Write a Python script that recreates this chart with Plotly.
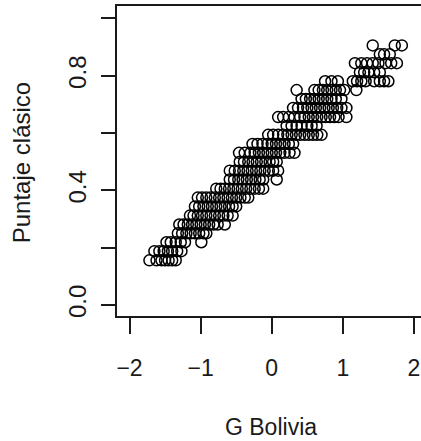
import plotly.graph_objects as go

# Puntaje clásico levels (rows of the scatter) and the G Bolivia values seen in each row
puntaje_levels = [0.156, 0.188, 0.219, 0.250, 0.281, 0.312, 0.344, 0.375, 0.406,
                  0.438, 0.469, 0.500, 0.531, 0.562, 0.594, 0.625, 0.656, 0.688,
                  0.719, 0.750, 0.781, 0.812, 0.844, 0.875, 0.906]

g_bolivia_rows = [
    [-1.72, -1.62, -1.55, -1.50, -1.45, -1.40, -1.35],
    [-1.65, -1.58, -1.52, -1.46, -1.40, -1.33, -1.27],
    [-1.48, -1.42, -1.35, -1.28, -1.22, -0.99],
    [-1.32, -1.26, -1.20, -1.14, -1.08, -1.02, -0.96, -0.92],
    [-1.30, -1.24, -1.18, -1.12, -1.06, -1.00, -0.94, -0.88, -0.82, -0.76, -0.66],
    [-1.15, -1.10, -1.04, -0.98, -0.92, -0.86, -0.80, -0.74, -0.68, -0.62, -0.55],
    [-1.08, -1.02, -0.96, -0.90, -0.84, -0.78, -0.72, -0.66, -0.60, -0.55, -0.50],
    [-1.04, -0.98, -0.92, -0.86, -0.80, -0.74, -0.68, -0.62, -0.56, -0.50, -0.44, -0.38, -0.33],
    [-0.78, -0.72, -0.66, -0.60, -0.54, -0.48, -0.42, -0.36, -0.30, -0.24, -0.18, -0.12],
    [-0.59, -0.53, -0.47, -0.41, -0.35, -0.29, -0.23, -0.17, -0.12, 0.07],
    [-0.59, -0.52, -0.46, -0.40, -0.34, -0.28, -0.22, -0.16, -0.10, -0.04, 0.02, 0.09],
    [-0.45, -0.39, -0.33, -0.27, -0.21, -0.15, -0.09, -0.03, 0.02, 0.07],
    [-0.46, -0.38, -0.30, -0.24, -0.18, -0.12, -0.06, 0.00, 0.06, 0.12, 0.18, 0.25, 0.32],
    [-0.27, -0.20, -0.13, -0.06, 0.00, 0.06, 0.12, 0.18, 0.24, 0.30],
    [-0.05, 0.02, 0.09, 0.16, 0.22, 0.28, 0.34, 0.40, 0.46, 0.52, 0.58, 0.64, 0.70],
    [0.21, 0.28, 0.35, 0.42, 0.50, 0.56, 0.63],
    [0.09, 0.16, 0.24, 0.32, 0.40, 0.46, 0.52, 0.58, 0.64, 0.70, 0.76, 0.82, 0.88, 0.94, 1.05],
    [0.30, 0.37, 0.44, 0.50, 0.56, 0.62, 0.68, 0.74, 0.80, 0.86, 0.92, 0.98, 1.05],
    [0.42, 0.48, 0.54, 0.60, 0.66, 0.72, 0.78, 0.84, 0.90, 0.98],
    [0.35, 0.60, 0.66, 0.72, 0.78, 0.84, 0.90, 0.96, 1.02, 1.19],
    [0.75, 0.84, 0.93, 1.14, 1.20, 1.26, 1.32, 1.44, 1.52, 1.58, 1.64],
    [1.24, 1.30, 1.36, 1.44, 1.52],
    [1.17, 1.26, 1.34, 1.42, 1.50, 1.60, 1.68, 1.76],
    [1.52, 1.58, 1.66],
    [1.42, 1.73, 1.83],
]

x_tickvals = [-2, -1, 0, 1, 2]
y_tickvals = [0.0, 0.2, 0.4, 0.6, 0.8, 1.0]
y_ticktext = ["0.0", "", "0.4", "", "0.8", ""]

xs, ys = [], []
for level, row in zip(puntaje_levels, g_bolivia_rows):
    for g in row:
        xs.append(g)
        ys.append(level)

ink = "#1a1a1a"
font_family = "Liberation Sans, Arial, sans-serif"

fig = go.Figure(go.Scatter(
    x=xs, y=ys, mode="markers",
    marker=dict(symbol="circle-open", size=11, color="black", line=dict(width=1.5, color="black")),
    showlegend=False, cliponaxis=False,
))

fig.update_layout(
    width=421, height=441,
    margin=dict(l=117, r=0, t=6, b=125),
    paper_bgcolor="white", plot_bgcolor="white",
    font=dict(family=font_family, color=ink),
    xaxis=dict(
        range=[-2.176, 2.099], tickvals=x_tickvals,
        showgrid=False, zeroline=False,
        showline=True, mirror=True, linecolor=ink, linewidth=1.8,
        ticks="outside", ticklen=16, tickwidth=1.8, tickcolor=ink,
        tickfont=dict(size=23, color=ink), ticklabelstandoff=14,
    ),
    yaxis=dict(
        range=[-0.0384, 1.0436], tickvals=y_tickvals, ticktext=y_ticktext,
        showgrid=False, zeroline=False,
        showline=True, mirror=False, linecolor=ink, linewidth=1.8,
        ticks="outside", ticklen=14, tickwidth=1.8, tickcolor=ink,
        tickangle=-90, tickfont=dict(size=24, color=ink), ticklabelstandoff=6,
    ),
    annotations=[
        dict(text="G Bolivia", xref="paper", yref="paper", x=0.506, y=-0.358,
             xanchor="center", yanchor="middle", showarrow=False,
             font=dict(size=23, color=ink)),
        dict(text="Puntaje clásico", xref="paper", yref="paper", x=-0.315, y=0.4935,
             xanchor="center", yanchor="middle", textangle=-90, showarrow=False,
             font=dict(size=24, color=ink)),
    ],
)

fig.write_html("out.html")
